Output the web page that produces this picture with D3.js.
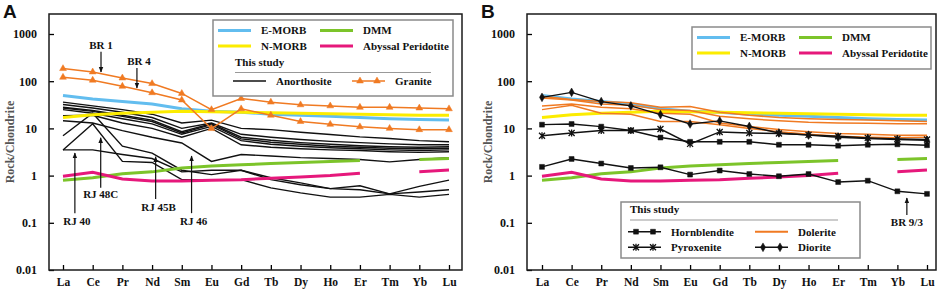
<!DOCTYPE html>
<html>
<head>
<meta charset="utf-8">
<script src="https://cdn.jsdelivr.net/npm/d3@7"></script>
<style>
  body { margin: 0; background: #fff; }
  svg text { font-family: "Liberation Serif", "Times New Roman", serif; font-weight: bold; fill: #111; }
  .axis text { font-size: 12px; }
  .axis.x text { font-size: 11.5px; }
  .axis line { stroke-width: 1.3; }
  .lbl { font-size: 11px; }
  .panel-letter { font-family: "Liberation Sans", Arial, sans-serif !important; font-size: 19px; }
</style>
</head>
<body>
<svg id="chart" width="941" height="291"></svg>
<script>
const elements = ["La","Ce","Pr","Nd","Sm","Eu","Gd","Tb","Dy","Ho","Er","Tm","Yb","Lu"];
const yTicks = [0.01, 0.1, 1, 10, 100, 1000];

// reference compositions (chondrite normalised)
const eMorb   = [50, 42, 37, 33, 26, 23, 22, 20, 19, 18, 17, 16, 15.5, 15];
const nMorb   = [17, 19.5, 21, 22, 23, 22.5, 22, 21.5, 21, 20.5, 20, 19.5, 19, 19];
const dmm     = [0.8, 0.9, 1.1, 1.2, 1.45, 1.6, 1.7, 1.8, 1.9, 2.0, 2.1, null, 2.2, 2.3];
const abyssal = [0.97, 1.17, 0.85, 0.77, 0.77, 0.8, 0.82, 0.88, 0.93, 1.0, 1.12, null, 1.2, 1.32];

// panel A samples
const anorthosite = [
  [36, 30, 25, 20, 13, 15, 10, 9.4, 8.3, 7.4, 6.6, 6.1, 5.5, 5.2],
  [32, 27, 22, 17, 10, 13, 7.5, 6.5, 5.8, 5.3, 5.0, 4.7, 4.5, 4.5],
  [28, 24, 19, 15, 8.5, 12.5, 6.5, 5.6, 5.0, 4.6, 4.3, 4.1, 4.0, 4.1],
  [27, 23, 18, 14, 8, 12, 6, 5.1, 4.6, 4.2, 4.0, 3.8, 3.7, 3.8],
  [25, 21, 16, 12.5, 7.5, 11, 5.5, 4.6, 4.2, 3.9, 3.7, 3.5, 3.4, 3.5],
  [18.5, 19, 13, 10, 6.5, 10, 4.5, 4.0, 3.7, 3.5, 3.4, 3.2, 3.1, 3.2],
  [14.5, 13, 9, 6.5, 4.9, 2.0, 2.8, 2.6, 2.4, 2.3, 2.2, 1.95, 2.2, 2.4],
  [7, 21, 4.2, 3.0, 1.3, 1.05, 1.3, 0.82, 0.64, 0.53, 0.61, 0.41, 0.59, 0.8],
  [3.5, 3.5, 2.8, 2.3, 1.2, 1.3, 1.3, 0.9, 0.7, 0.53, 0.5, 0.41, 0.45, 0.5],
  [3.5, 12.5, 2.0, 1.9, 0.82, 0.82, 0.82, 0.55, 0.43, 0.35, 0.35, 0.40, 0.35, 0.40]
];
const granite = [
  [185, 157, 117, 89, 55, 25, 43, 36, 31.6, 30, 28, 28, 27, 26],
  [121, 105, 78, 57, 40, 9.9, 26, 19, 14, 12.2, 10.8, 10, 9.4, 9.4]
];

// panel B samples
const hornblendite = [
  [12, 12.4, 10.9, 9, 6.4, 5.2, 5.2, 5.2, 4.5, 4.5, 4.3, 4.5, 4.6, 4.4],
  [1.53, 2.25, 1.8, 1.45, 1.5, 1.05, 1.28, 1.08, 0.97, 1.08, 0.73, 0.78, 0.465, 0.41]
];
const pyroxenite = [
  [7, 8, 9, 9, 9.7, 4.7, 8.4, 8, 7.8, 7.3, 6.8, 6.3, 6.0, 5.8]
];
const dolerite = [
  [48, 41, 37, 35, 28, 29, 22, 19, 17, 16, 15.5, 15, 14.5, 14],
  [44, 40, 33, 31, 25, 24, 18, 16, 14.5, 13.5, 13, 12.8, 12.6, 12.6],
  [30, 33, 28, 26, 21, 20, 13, 11, 9.5, 8.5, 7.8, 7.5, 7.2, 7.2],
  [25, 31, 21, 20, 14, 14, 12, 10, 8.5, 7.5, 6.8, 6.5, 6.3, 6.5]
];
const diorite = [
  [45.5, 58, 37, 30, 19.6, 12.4, 14.4, 11, 8, 7.2, 6.5, 6.1, 5.8, 5.6]
];

const references = [
  {name: "E-MORB", color: "#62bdef", values: eMorb},
  {name: "DMM", color: "#7cc42a", values: dmm},
  {name: "N-MORB", color: "#fcec00", values: nMorb},
  {name: "Abyssal Peridotite", color: "#e6187b", values: abyssal}
];
const orange = "#f07a22";

const svg = d3.select("#chart");

function series(vals) { return elements.map((e, i) => [e, vals[i]]); }

function symbolPath(kind) {
  if (kind === "triangle") return d3.symbol(d3.symbolTriangle, 20)();
  if (kind === "square") return d3.symbol(d3.symbolSquare, 24)();
  if (kind === "diamond") return d3.symbol(d3.symbolDiamond, 22)();
  if (kind === "star") return "M-3,-3L3,3M-3,3L3,-3M0,-3.5V3.5";
  return null;
}

function drawMarker(sel, kind, color) {
  sel.append("path")
    .attr("d", symbolPath(kind))
    .attr("fill", kind === "star" ? "none" : color)
    .attr("stroke", color)
    .attr("stroke-width", kind === "star" ? 1.3 : 0.5);
}

function panel(left, right, x0, x1, letter) {
  const g = svg.append("g");
  const x = d3.scalePoint().domain(elements).range([x0, x1]);
  const y = d3.scaleLog().domain([0.01, 1000]).range([270, 34]);

  g.append("g").attr("class", "axis x")
    .attr("transform", "translate(0,270)")
    .call(d3.axisBottom(x).tickSize(-5).tickPadding(8));
  g.append("g").attr("class", "axis y")
    .attr("transform", "translate(" + left + ",0)")
    .call(d3.axisLeft(y).tickValues(yTicks).tickFormat(d3.format("~g")).tickSize(-5).tickPadding(12));
  g.selectAll(".axis .domain").remove();

  g.append("rect")
    .attr("x", left).attr("y", 14)
    .attr("width", right - left).attr("height", 256)
    .attr("fill", "none").attr("stroke", "#1a1a1a").attr("stroke-width", 1.5);

  g.append("text")
    .attr("transform", "translate(" + (left - 35) + ",142) rotate(-90)")
    .attr("text-anchor", "middle")
    .style("font-size", "12px")
    .style("fill", "#555")
    .text("Rock/Chondrite");

  g.append("text").attr("class", "panel-letter")
    .attr("x", left - 46).attr("y", 18)
    .text(letter);

  const line = d3.line()
    .defined(d => d[1] != null)
    .x(d => x(d[0]))
    .y(d => y(d[1]));

  return {g, x, y, line};
}

function drawRefs(p) {
  references.forEach(r => {
    p.g.append("path")
      .attr("d", p.line(series(r.values)))
      .attr("fill", "none").attr("stroke", r.color).attr("stroke-width", 3);
  });
}

function drawSamples(p, groups, color, width, marker) {
  groups.forEach(vals => {
    p.g.append("path")
      .attr("d", p.line(series(vals)))
      .attr("fill", "none").attr("stroke", color).attr("stroke-width", width);
    if (marker) {
      p.g.selectAll(null)
        .data(series(vals).filter(d => d[1] != null))
        .join("g")
        .attr("transform", d => "translate(" + p.x(d[0]) + "," + p.y(d[1]) + ")")
        .each(function() { drawMarker(d3.select(this), marker, color); });
    }
  });
}

function annotate(p, notes) {
  const step = p.x.step(), x0 = p.x(elements[0]);
  notes.forEach(n => {
    const xx = x0 + n.pos * step;
    p.g.append("line")
      .attr("x1", xx).attr("x2", xx)
      .attr("y1", p.y(n.tail)).attr("y2", p.y(n.tip))
      .attr("stroke", "#111").attr("stroke-width", 1.2)
      .attr("marker-end", "url(#arrow)");
    p.g.append("text").attr("class", "lbl")
      .attr("x", xx + (n.dx || 0)).attr("y", p.y(n.label))
      .attr("text-anchor", "middle")
      .text(n.text);
  });
}

function refLegend(g, bx, by, w, h) {
  g.append("rect").attr("x", bx).attr("y", by).attr("width", w).attr("height", h)
    .attr("fill", "#fff").attr("stroke", "#8a8a8a").attr("stroke-width", 1.5);
  references.forEach((r, i) => {
    const cx = bx + 5 + (i % 2) * 102, cy = by + 10.5 + Math.floor(i / 2) * 15.5;
    g.append("line").attr("x1", cx).attr("x2", cx + 33).attr("y1", cy).attr("y2", cy)
      .attr("stroke", r.color).attr("stroke-width", 3);
    g.append("text").attr("class", "lbl").attr("x", cx + 43).attr("y", cy).attr("dy", "0.35em").text(r.name);
  });
}

function sampleLegend(g, items, bx, by, w, h, titleY, rowY, colX) {
  if (h) {
    g.append("rect").attr("x", bx).attr("y", by).attr("width", w).attr("height", h)
      .attr("fill", "#fff").attr("stroke", "#8a8a8a").attr("stroke-width", 1.5);
  }
  g.append("text").attr("class", "lbl").attr("x", colX[0] + 2).attr("y", titleY).attr("dy", "0.35em").text("This study");
  g.append("line").attr("x1", colX[0] + 2).attr("x2", bx + w - 22)
    .attr("y1", titleY + 10.5).attr("y2", titleY + 10.5)
    .attr("stroke", "#999").attr("stroke-width", 1);
  items.forEach((it, i) => {
    const cx = colX[i % 2], cy = rowY[Math.floor(i / 2)];
    g.append("line").attr("x1", cx).attr("x2", cx + 33).attr("y1", cy).attr("y2", cy)
      .attr("stroke", it.color).attr("stroke-width", it.width);
    if (it.marker) {
      [cx + 8, cx + 25].forEach(mx => {
        const m = g.append("g").attr("transform", "translate(" + mx + "," + cy + ")");
        drawMarker(m, it.marker, it.color);
      });
    }
    g.append("text").attr("class", "lbl").attr("x", cx + 43).attr("y", cy).attr("dy", "0.35em").text(it.name);
  });
}

svg.append("defs").append("marker")
  .attr("id", "arrow").attr("viewBox", "0 0 10 10")
  .attr("refX", 9).attr("refY", 5)
  .attr("markerWidth", 5).attr("markerHeight", 6)
  .attr("orient", "auto-start-reverse")
  .append("path").attr("d", "M0,1L10,5L0,9Z").attr("fill", "#111");

// ---- Panel A
const pA = panel(49, 462, 63, 449, "A");
drawSamples(pA, anorthosite, "#111", 1.4, null);
drawRefs(pA);
drawSamples(pA, granite, orange, 1.5, "triangle");
annotate(pA, [
  {text: "BR 1", pos: 1.28, tip: 157, tail: 420, label: 480},
  {text: "BR 4", pos: 2.49, tip: 72, tail: 190, label: 220, dx: 2},
  {text: "RJ 40", pos: 0.4, tip: 3.0, tail: 0.16, label: 0.09, dx: 2},
  {text: "RJ 48C", pos: 1.27, tip: 6.3, tail: 0.55, label: 0.33},
  {text: "RJ 45B", pos: 3.12, tip: 2.5, tail: 0.32, label: 0.18, dx: 3},
  {text: "RJ 46", pos: 4.33, tip: 2.6, tail: 0.16, label: 0.09, dx: 2}
]);
refLegend(pA.g, 213, 20, 240, 76);
sampleLegend(pA.g, [
  {name: "Anorthosite", color: "#111", width: 1.5, marker: null},
  {name: "Granite", color: orange, width: 1.5, marker: "triangle"}
], 213, 20, 240, 0, 62, [81], [233, 352]);

// ---- Panel B
const pB = panel(527, 936, 542, 927, "B");
drawRefs(pB);
drawSamples(pB, dolerite, orange, 1.5, null);
drawSamples(pB, hornblendite, "#111", 1.4, "square");
drawSamples(pB, pyroxenite, "#111", 1.4, "star");
drawSamples(pB, diorite, "#111", 1.4, "diamond");
annotate(pB, [
  {text: "BR 9/3", pos: 12.32, tip: 0.335, tail: 0.146, label: 0.087}
]);
refLegend(pB.g, 692, 27, 239, 42);
sampleLegend(pB.g, [
  {name: "Hornblendite", color: "#111", width: 1.5, marker: "square"},
  {name: "Dolerite", color: orange, width: 2, marker: null},
  {name: "Pyroxenite", color: "#111", width: 1.5, marker: "star"},
  {name: "Diorite", color: "#111", width: 1.5, marker: "diamond"}
], 621, 202, 239, 56, 209.5, [231.7, 247.3], [628, 755]);
</script>
</body>
</html>
